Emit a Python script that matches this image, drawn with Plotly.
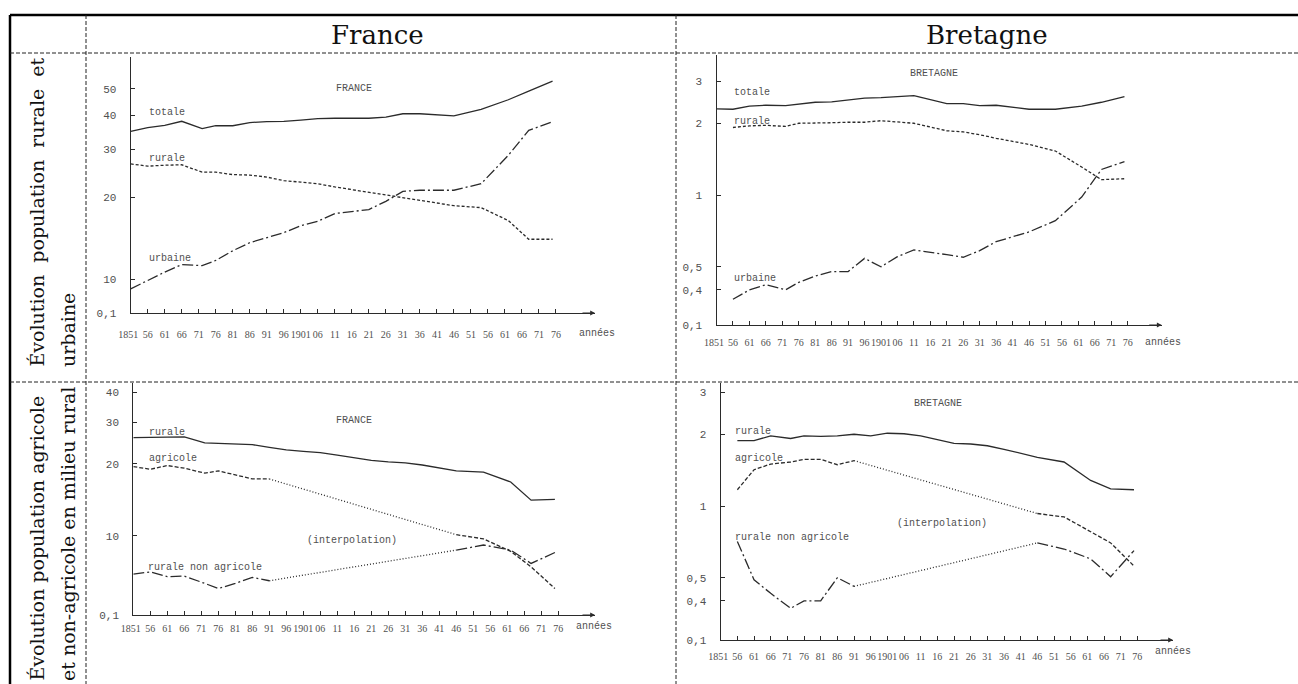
import math
import plotly.graph_objects as go

W, H = 1298, 684

# ---------------- DATA (millions d'habitants) ----------------
years = [1851, 1856, 1861, 1866, 1872, 1876, 1881, 1886, 1891, 1896, 1901, 1906,
         1911, 1921, 1926, 1931, 1936, 1946, 1954, 1962, 1968, 1975]
years_bz = [1856, 1861, 1866, 1872, 1876, 1881, 1886, 1891, 1896, 1901, 1906,
            1911, 1921, 1926, 1931, 1936, 1946, 1954, 1962, 1968, 1975]

# France : population totale, rurale, urbaine
fr_totale = [34.9, 36.0, 36.7, 38.0, 35.7, 36.6, 36.6, 37.6, 37.9, 38.0, 38.4, 38.9,
             39.0, 39.0, 39.4, 40.5, 40.5, 39.8, 42.0, 45.6, 49.1, 53.4]
fr_rurale = [26.5, 26.0, 26.2, 26.3, 24.7, 24.7, 24.2, 24.1, 23.7, 23.0, 22.7, 22.4,
             21.8, 20.8, 20.4, 19.9, 19.5, 18.6, 18.3, 16.4, 14.0, 14.0]
fr_urbaine = [9.2, 9.9, 10.6, 11.3, 11.2, 11.7, 12.7, 13.6, 14.2, 14.8, 15.7, 16.3,
              17.4, 18.0, 19.3, 21.0, 21.2, 21.2, 22.4, 28.5, 35.2, 37.9]

# Bretagne : population totale (depuis 1851), rurale et urbaine (depuis 1856)
bz_totale = [2.30, 2.29, 2.36, 2.38, 2.37, 2.41, 2.45, 2.46, 2.50, 2.55, 2.56, 2.59,
             2.61, 2.42, 2.42, 2.37, 2.38, 2.29, 2.29, 2.36, 2.45, 2.59]
bz_rurale = [1.92, 1.95, 1.96, 1.94, 2.00, 2.00, 2.01, 2.02, 2.02, 2.05, 2.02,
             2.00, 1.86, 1.84, 1.79, 1.73, 1.63, 1.53, 1.31, 1.16, 1.17]
bz_urbaine = [0.365, 0.40, 0.42, 0.40, 0.43, 0.457, 0.477, 0.477, 0.542, 0.50, 0.551,
              0.588, 0.562, 0.548, 0.584, 0.637, 0.70, 0.78, 0.98, 1.28, 1.38]

# France : rurale, agricole, rurale non agricole (milieu rural)
fr_rur2 = [25.8, 25.8, 25.9, 26.0, 24.5, 24.4, 24.2, 24.1, 23.5, 22.9, 22.6, 22.3,
           21.8, 20.7, 20.4, 20.2, 19.8, 18.7, 18.5, 16.8, 14.1, 14.2]
years_early_fr = [1851, 1856, 1861, 1866, 1872, 1876, 1881, 1886, 1891]
years_late = [1946, 1954, 1962, 1968, 1975]
fr_agri_early = [19.5, 19.0, 19.7, 19.2, 18.3, 18.7, 18.0, 17.3, 17.3]
fr_agri_late = [10.1, 9.7, 8.6, 7.4, 6.0]
fr_nonagri_early = [6.9, 7.05, 6.73, 6.77, 6.31, 6.0, 6.31, 6.69, 6.47]
fr_nonagri_late = [8.7, 9.14, 8.7, 7.65, 8.5]

# Bretagne : rurale, agricole, rurale non agricole
bz_rur2 = [1.88, 1.88, 1.97, 1.92, 1.97, 1.96, 1.97, 2.00, 1.97, 2.02, 2.01,
           1.97, 1.83, 1.82, 1.79, 1.73, 1.60, 1.53, 1.28, 1.18, 1.17]
years_early_bz = [1856, 1861, 1866, 1872, 1876, 1881, 1886, 1891]
bz_agri_early = [1.17, 1.42, 1.50, 1.53, 1.57, 1.57, 1.49, 1.55]
bz_agri_late = [0.93, 0.90, 0.78, 0.70, 0.56]
bz_nonagri_early = [0.71, 0.49, 0.43, 0.372, 0.40, 0.40, 0.50, 0.46]
bz_nonagri_late = [0.70, 0.66, 0.60, 0.505, 0.65]

tick_years = [1851, 1856, 1861, 1866, 1871, 1876, 1881, 1886, 1891, 1896, 1901, 1906, 1911,
              1916, 1921, 1926, 1931, 1936, 1941, 1946, 1951, 1956, 1961, 1966, 1971, 1976]
tick_labels = ["1851\u00a0\u00a0", "56", "61", "66", "71", "76", "81", "86", "91", "96",
               "1901", "06", "11", "16", "21", "26", "31", "36", "41", "46", "51", "56",
               "61", "66", "71", "76"]

fr_yticks_top = [10, 20, 30, 40, 50]
fr_yticks_bot = [10, 20, 30, 40]
bz_yticks = [0.4, 0.5, 1, 2, 3]

# ---------------- STYLE ----------------
LINE = "#2b2b2b"
TXT = "#505050"
MONO = "Liberation Mono"
SERIF = "DejaVu Serif"
TICKSERIF = "Liberation Serif"
LW = 1.3
SOLID = "solid"
SHORTDASH = "3px,2px"
DASHDOT = "11px,3px,2px,3px"
DOTTED = "1px,2px"

# panel geometry in pixels
panels = {
    1: dict(x0=130.7, ppy=3.402, tip=595, yb=313, yt=57, ref=10, refpx=279, ppd=272,
            yt_vals=fr_yticks_top, stand=12),
    2: dict(x0=716.5, ppy=3.29, tip=1161.7, yb=325, yt=55, ref=1, refpx=195, ppd=238.3,
            yt_vals=bz_yticks, stand=8),
    3: dict(x0=133.3, ppy=3.40, tip=595, yb=615, yt=383, ref=10, refpx=535.7, ppd=238.3,
            yt_vals=fr_yticks_bot, stand=4),
    4: dict(x0=720.7, ppy=3.333, tip=1173, yb=640, yt=383, ref=1, refpx=506, ppd=238.3,
            yt_vals=bz_yticks, stand=7),
}

fig = go.Figure()


def add_line(i, xs, ys, dash):
    fig.add_trace(go.Scatter(
        x=xs, y=ys, mode="lines",
        line=dict(color=LINE, width=LW, dash=dash),
        xaxis="x" if i == 1 else f"x{i}", yaxis="y" if i == 1 else f"y{i}",
        hoverinfo="skip", showlegend=False))


# panel 1 : France rurale/urbaine
add_line(1, years, fr_totale, SOLID)
add_line(1, years, fr_rurale, SHORTDASH)
add_line(1, years, fr_urbaine, DASHDOT)
# panel 2 : Bretagne rurale/urbaine
add_line(2, years, bz_totale, SOLID)
add_line(2, years_bz, bz_rurale, SHORTDASH)
add_line(2, years_bz, bz_urbaine, DASHDOT)
# panel 3 : France agricole
add_line(3, years, fr_rur2, SOLID)
add_line(3, years_early_fr, fr_agri_early, "4px,2px")
add_line(3, [years_early_fr[-1], years_late[0]], [fr_agri_early[-1], fr_agri_late[0]], DOTTED)
add_line(3, years_late, fr_agri_late, "4px,2px")
add_line(3, years_early_fr, fr_nonagri_early, DASHDOT)
add_line(3, [years_early_fr[-1], years_late[0]], [fr_nonagri_early[-1], fr_nonagri_late[0]], DOTTED)
add_line(3, years_late, fr_nonagri_late, DASHDOT)
# panel 4 : Bretagne agricole
add_line(4, years_bz, bz_rur2, SOLID)
add_line(4, years_early_bz, bz_agri_early, "4px,2px")
add_line(4, [years_early_bz[-1], years_late[0]], [bz_agri_early[-1], bz_agri_late[0]], DOTTED)
add_line(4, years_late, bz_agri_late, "4px,2px")
add_line(4, years_early_bz, bz_nonagri_early, DASHDOT)
add_line(4, [years_early_bz[-1], years_late[0]], [bz_nonagri_early[-1], bz_nonagri_late[0]], DOTTED)
add_line(4, years_late, bz_nonagri_late, DASHDOT)

layout = dict(
    autosize=True, margin=dict(l=0, r=0, t=0, b=0, autoexpand=False),
    paper_bgcolor="white", plot_bgcolor="rgba(0,0,0,0)", showlegend=False,
)

annotations = []
for i, p in panels.items():
    xs = "" if i == 1 else str(i)
    tip_year = 1851 + (p["tip"] - p["x0"]) / p["ppy"]
    lo = math.log10(p["ref"]) - (p["yb"] - p["refpx"]) / p["ppd"]
    hi = math.log10(p["ref"]) + (p["refpx"] - p["yt"]) / p["ppd"]
    bottom_val = 10 ** lo
    layout["xaxis" + xs] = dict(
        domain=[p["x0"] / W, p["tip"] / W], range=[1851, tip_year],
        anchor="y" + xs, showline=True, linecolor=LINE, linewidth=1.2,
        ticks="inside", ticklen=4, tickcolor=LINE, tickwidth=1,
        tickmode="array", tickvals=tick_years, ticktext=tick_labels, tickangle=0,
        tickfont=dict(family=TICKSERIF, size=10, color=TXT),
        ticklabelstandoff=p["stand"], automargin=False,
        showgrid=False, zeroline=False, fixedrange=True)
    layout["yaxis" + xs] = dict(
        domain=[1 - p["yb"] / H, 1 - p["yt"] / H], type="log", range=[lo, hi],
        anchor="x" + xs, showline=True, linecolor=LINE, linewidth=1.2,
        ticks="inside", ticklen=4, tickcolor=LINE, tickwidth=1,
        tickmode="array", tickvals=[bottom_val] + p["yt_vals"],
        ticktext=["0,1"] + [str(v).replace(".", ",") for v in p["yt_vals"]],
        tickfont=dict(family=MONO, size=11, color=TXT),
        ticklabelstandoff=11, automargin=False,
        showgrid=False, zeroline=False, fixedrange=True)
    # arrow head at the end of the time axis
    annotations.append(dict(
        x=p["tip"] / W, y=1 - p["yb"] / H, xref="paper", yref="paper",
        ax=-14, ay=0, showarrow=True, arrowhead=2, arrowsize=0.8,
        arrowwidth=1.2, arrowcolor=LINE, text=""))


def ann(text, x, y, size=10, family=MONO, color=TXT, xanchor="center",
        yanchor="middle", angle=0):
    annotations.append(dict(
        text=text, x=x / W, y=1 - y / H, xref="paper", yref="paper",
        showarrow=False, font=dict(family=family, size=size, color=color),
        xanchor=xanchor, yanchor=yanchor, textangle=angle))


# panel texts
ann("FRANCE", 354, 88)
ann("totale", 147, 112, xanchor="left")
ann("rurale", 147, 158, xanchor="left")
ann("urbaine", 147, 258, xanchor="left")
ann("années", 597, 333)

ann("BRETAGNE", 934, 73)
ann("totale", 732, 93, xanchor="left")
ann("rurale", 732, 121, xanchor="left")
ann("urbaine", 732, 278, xanchor="left")
ann("années", 1163, 342)

ann("FRANCE", 354, 421)
ann("rurale", 147, 432, xanchor="left")
ann("agricole", 147, 458, xanchor="left")
ann("(interpolation)", 352, 540)
ann("rurale non agricole", 146, 567, xanchor="left")
ann("années", 594, 626)

ann("BRETAGNE", 938, 403)
ann("rurale", 733, 431, xanchor="left")
ann("agricole", 733, 458, xanchor="left")
ann("(interpolation)", 942, 523)
ann("rurale non agricole", 733, 537, xanchor="left")
ann("années", 1173, 651)

# table headers
ann("France", 377, 35, size=26, family=SERIF, color="#111111")
ann("Bretagne", 987, 35, size=26, family=SERIF, color="#111111")

# rotated row labels
NB = "\u00a0"
ann("Évolution" + NB * 2 + "population" + NB * 2 + "rurale" + NB * 2 + "et", 36, 369,
    size=19, family=SERIF, color="#111111", yanchor="bottom", angle=-90)
ann("urbaine", 68, 369, size=19, family=SERIF, color="#111111", yanchor="bottom", angle=-90)
ann("Évolution population agricole", 36, 683, size=19, family=SERIF, color="#111111",
    yanchor="bottom", angle=-90)
ann("et non-agricole en milieu rural", 68, 683, size=19, family=SERIF, color="#111111",
    yanchor="bottom", angle=-90)

layout["annotations"] = annotations


def seg(x0, y0, x1, y1, width=1, dash="dash", color="#222222"):
    return dict(type="line", xref="paper", yref="paper",
                x0=x0 / W, y0=1 - y0 / H, x1=x1 / W, y1=1 - y1 / H,
                line=dict(color=color, width=width, dash=dash))


layout["shapes"] = [
    seg(10, 15, W, 15, width=2.5, dash="solid", color="#000000"),
    seg(10, 15, 10, H, width=2.5, dash="solid", color="#000000"),
    seg(86, 15, 86, H, dash="4px,2px"),
    seg(676, 15, 676, H, dash="4px,2px"),
    seg(10, 53, W, 53, dash="4px,2px"),
    seg(10, 382, W, 382, dash="4px,2px"),
]

fig.update_layout(**layout)
fig.write_html(
    "out.html",
    default_width="100vw",
    default_height="100vh",
    config={"displayModeBar": False, "responsive": True},
    post_script="document.body.style.margin='0px';document.body.style.overflow='hidden';"
                "window.dispatchEvent(new Event('resize'));",
)
